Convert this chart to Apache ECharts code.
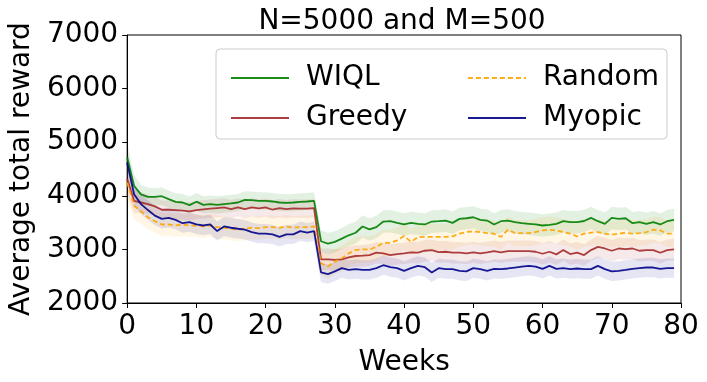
<!DOCTYPE html>
<html>
<head>
<meta charset="utf-8">
<script src="https://cdn.jsdelivr.net/npm/echarts@6/dist/echarts.min.js"></script>
<style>
  html, body { margin: 0; padding: 0; background: #fff; }
  #chart { width: 707px; height: 382px; }
</style>
</head>
<body>
<div id="chart"></div>
<script>
// x 轴类目: 第 0..80 周 (数据只到第 79 周)
const weeks = [];
for (let i = 0; i <= 80; i++) weeks.push(String(i));

const yTicks = [2000, 3000, 4000, 5000, 6000, 7000];

// WIQL (green)
const wiql = [4720, 4182, 4028, 3980, 3980, 3992, 3937, 3888, 3875, 3826,
  3890, 3832, 3845, 3832, 3845, 3857, 3875, 3924, 3918, 3906,
  3906, 3894, 3875, 3869, 3875, 3888, 3894, 3906, 3152, 3109,
  3140, 3201, 3263, 3311, 3428, 3373, 3416, 3520, 3526, 3495,
  3465, 3495, 3477, 3465, 3520, 3526, 3538, 3495, 3569, 3581,
  3600, 3550, 3538, 3465, 3526, 3538, 3508, 3489, 3477, 3465,
  3446, 3459, 3477, 3526, 3508, 3508, 3530, 3587, 3526, 3477,
  3587, 3569, 3581, 3489, 3508, 3477, 3508, 3465, 3526, 3550];
const wiqlSpread = [260, 210, 180, 170, 165, 165, 160, 160, 160, 160,
  160, 160, 160, 160, 160, 160, 160, 160, 160, 160,
  160, 160, 160, 160, 160, 160, 160, 160, 200, 200,
  200, 200, 205, 205, 210, 210, 210, 210, 210, 210,
  210, 210, 210, 210, 210, 210, 210, 210, 210, 210,
  210, 210, 210, 210, 210, 210, 210, 210, 210, 210,
  210, 210, 210, 210, 210, 210, 210, 210, 210, 210,
  210, 210, 210, 210, 210, 210, 210, 210, 210, 210];

// Greedy (brown)
const greedy = [4320, 3906, 3875, 3845, 3802, 3740, 3740, 3734, 3722, 3710,
  3734, 3747, 3759, 3771, 3783, 3753, 3783, 3753, 3783, 3765,
  3783, 3740, 3771, 3753, 3765, 3759, 3759, 3771, 2815, 2815,
  2803, 2815, 2852, 2877, 2883, 2895, 2938, 2926, 2895, 2913,
  2926, 2944, 2938, 2975, 2987, 2950, 2956, 2938, 2938, 2926,
  2944, 2926, 2944, 2968, 2944, 2968, 2968, 2968, 2968, 2956,
  2919, 2956, 2907, 2987, 2913, 2938, 2895, 2987, 3048, 3017,
  2975, 3017, 3005, 3017, 2975, 2987, 2987, 2938, 2987, 2999];
const greedySpread = [300, 220, 190, 180, 175, 170, 170, 170, 170, 170,
  170, 170, 170, 170, 170, 170, 170, 170, 170, 170,
  170, 170, 170, 170, 170, 170, 170, 170, 200, 200,
  200, 200, 200, 200, 200, 200, 200, 200, 200, 200,
  200, 200, 200, 200, 200, 200, 200, 200, 200, 200,
  200, 200, 200, 200, 200, 200, 200, 200, 200, 200,
  200, 200, 200, 200, 200, 200, 200, 200, 200, 200,
  200, 200, 200, 200, 200, 200, 200, 200, 200, 200];

// Random (orange, dashed)
const random = [4250, 3814, 3710, 3600, 3526, 3465, 3465, 3446, 3465, 3446,
  3446, 3428, 3446, 3416, 3404, 3385, 3367, 3385, 3404, 3397,
  3416, 3416, 3404, 3428, 3404, 3416, 3416, 3428, 2742, 2680,
  2772, 2834, 2926, 2987, 2999, 2999, 3048, 3122, 3122, 3170,
  3250, 3140, 3230, 3232, 3232, 3232, 3232, 3244, 3293, 3324,
  3336, 3324, 3305, 3293, 3232, 3367, 3305, 3305, 3305, 3324,
  3354, 3367, 3354, 3324, 3293, 3244, 3293, 3312, 3324, 3293,
  3275, 3293, 3312, 3293, 3305, 3324, 3367, 3354, 3293, 3293];
const randomSpread = [320, 250, 230, 220, 215, 215, 215, 215, 215, 215,
  215, 215, 215, 215, 215, 215, 215, 215, 215, 215,
  215, 215, 215, 215, 215, 215, 215, 215, 230, 230,
  240, 240, 245, 245, 245, 245, 245, 245, 245, 245,
  245, 245, 245, 245, 245, 245, 245, 245, 245, 245,
  245, 245, 245, 245, 245, 245, 245, 245, 245, 245,
  245, 245, 245, 245, 245, 245, 245, 245, 245, 245,
  245, 245, 245, 245, 245, 245, 245, 245, 245, 245];

// Myopic (dark blue)
const myopic = [4620, 4028, 3845, 3734, 3630, 3569, 3587, 3550, 3489, 3508,
  3465, 3446, 3465, 3342, 3428, 3404, 3385, 3367, 3324, 3293,
  3293, 3281, 3232, 3281, 3281, 3342, 3312, 3342, 2570, 2540,
  2589, 2650, 2619, 2632, 2619, 2619, 2650, 2705, 2668, 2650,
  2601, 2650, 2693, 2668, 2570, 2650, 2632, 2632, 2601, 2589,
  2650, 2632, 2601, 2638, 2632, 2644, 2662, 2680, 2693, 2680,
  2638, 2693, 2638, 2650, 2632, 2644, 2632, 2632, 2693, 2632,
  2589, 2601, 2619, 2638, 2650, 2662, 2662, 2638, 2650, 2650];
const myopicSpread = [260, 210, 190, 185, 180, 180, 180, 180, 180, 180,
  180, 180, 180, 180, 180, 180, 180, 180, 180, 180,
  180, 180, 180, 180, 180, 180, 180, 180, 180, 180,
  180, 180, 180, 180, 180, 180, 180, 180, 180, 180,
  180, 180, 180, 180, 180, 180, 180, 180, 180, 180,
  180, 180, 180, 180, 180, 180, 180, 180, 180, 180,
  180, 180, 180, 180, 180, 180, 180, 180, 180, 180,
  180, 180, 180, 180, 180, 180, 180, 180, 180, 180];

const FONT = 'DejaVu Sans';

// 每条曲线: 阴影带 (lower + band 叠加) 和主线
function makeSeries(name, values, spread, color, bandColor, dashed) {
  const lower = values.map((v, i) => v - spread[i]);
  const band = spread.map(s => 2 * s);
  return [
    {
      name: name + '_lo', type: 'line', stack: name, data: lower,
      symbol: 'none', silent: true, lineStyle: { width: 0, opacity: 0 }, z: 1
    },
    {
      name: name + '_band', type: 'line', stack: name, data: band,
      symbol: 'none', silent: true, lineStyle: { width: 0, opacity: 0 },
      areaStyle: { color: bandColor, opacity: 1 }, z: 1
    },
    {
      name: name, type: 'line', data: values, symbol: 'none',
      lineStyle: { color: color, width: 1.8, type: dashed ? [5, 3] : 'solid', opacity: 0.9 },
      itemStyle: { color: color }, z: 3
    }
  ];
}

const series = [].concat(
  makeSeries('WIQL', wiql, wiqlSpread, '#008000', 'rgba(0,128,0,0.11)', false),
  makeSeries('Greedy', greedy, greedySpread, '#a52a2a', 'rgba(165,42,42,0.1)', false),
  makeSeries('Random', random, randomSpread, '#ffa500', 'rgba(255,165,0,0.1)', true),
  makeSeries('Myopic', myopic, myopicSpread, '#00008b', 'rgba(0,0,139,0.1)', false)
);

const legendBase = {
  orient: 'vertical',
  top: 58,
  itemWidth: 58,
  itemHeight: 14,
  itemGap: 10,
  itemStyle: { opacity: 0 },
  textStyle: { fontFamily: FONT, fontSize: 28, color: '#000', lineHeight: 30, padding: [0, 0, 0, 12] }
};

const option = {
  backgroundColor: '#fff',
  animation: false,
  title: {
    text: 'N=5000 and M=500',
    left: 402,
    top: 8,
    padding: 0,
    textAlign: 'center',
    textStyle: { fontFamily: FONT, fontSize: 28, fontWeight: 'normal', color: '#000' }
  },
  legend: [
    Object.assign({}, legendBase, { left: 225, data: ['WIQL', 'Greedy'] }),
    Object.assign({}, legendBase, { left: 462, data: ['Random', 'Myopic'] })
  ],
  graphic: [{
    type: 'rect',
    shape: { x: 216, y: 49, width: 451, height: 90, r: 4 },
    style: { fill: 'rgba(255,255,255,0.8)', stroke: '#cccccc', lineWidth: 1 },
    z: 3.5
  }],
  grid: {
    left: 123, right: 26, top: 35, bottom: 75,
    show: true, borderColor: '#000', borderWidth: 1
  },
  xAxis: {
    type: 'category', data: weeks, boundaryGap: false,
    name: 'Weeks', nameLocation: 'middle', nameGap: 46,
    nameTextStyle: { fontFamily: FONT, fontSize: 28, color: '#000' },
    axisLine: { lineStyle: { color: '#000', width: 1 } },
    axisTick: { length: 5, interval: 9, lineStyle: { color: '#000' } },
    axisLabel: { interval: 9, fontFamily: FONT, fontSize: 28, color: '#000', margin: 10 },
    splitLine: { show: false }
  },
  yAxis: {
    type: 'value', min: yTicks[0], max: yTicks[yTicks.length - 1], interval: 1000,
    name: 'Average total reward', nameLocation: 'middle', nameGap: 88,
    nameTextStyle: { fontFamily: FONT, fontSize: 28, color: '#000' },
    axisLine: { show: true, lineStyle: { color: '#000', width: 1 } },
    axisTick: { show: true, length: 5, lineStyle: { color: '#000' } },
    axisLabel: { fontFamily: FONT, fontSize: 28, color: '#000', margin: 9, formatter: v => String(v) },
    splitLine: { show: false }
  },
  series: series
};

const chart = echarts.init(document.getElementById('chart'));
chart.setOption(option);
</script>
</body>
</html>
